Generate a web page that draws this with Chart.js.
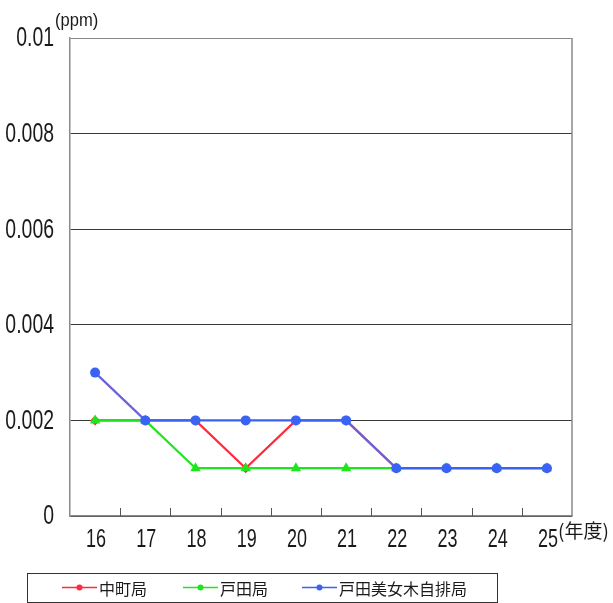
<!DOCTYPE html>
<html>
<head>
<meta charset="utf-8">
<script src="https://cdn.jsdelivr.net/npm/chart.js@4.4.1/dist/chart.umd.min.js"></script>
<style>
  html, body { margin: 0; padding: 0; background: #fff; }
  #wrap { position: relative; width: 613px; height: 603px; }
</style>
</head>
<body>
<div id="wrap"><canvas id="ppmChart"></canvas></div>
<script>
/* 年度別推移 (ppm) — 中町局 / 戸田局 / 戸田美女木自排局 */

var YEARS = ["16", "17", "18", "19", "20", "21", "22", "23", "24", "25"];
var Y_TICK_LABELS = ["0", "0.002", "0.004", "0.006", "0.008", "0.01"];

var NAKAMACHI = [0.002, 0.002, 0.002, 0.001, 0.002, 0.002, 0.001, 0.001, 0.001, 0.001];
var TODA      = [0.002, 0.002, 0.001, 0.001, 0.001, 0.001, 0.001, 0.001, 0.001, 0.001];
var BIJOGI    = [0.003, 0.002, 0.002, 0.002, 0.002, 0.002, 0.001, 0.001, 0.001, 0.001];

var SERIES_NAMES = ["中町局", "戸田局", "戸田美女木自排局"];

/* ── colours ── */
var C = {
  red: "#ff2a3c",
  green: "#1ee61e",
  blue: "#3a62f4",
  purple: "#6a62d8",
  grid: "#3a3a3a",
  frame: "#8a8a8a",
  text: "#1a1a1a"
};

var NUM_FONT = "'Liberation Sans', Arial, sans-serif";
var JP_FONT = "'Noto Sans CJK JP', sans-serif";
var SQUEEZE = 0.72;   // digits in the original are very condensed

/* draws text squeezed horizontally; align is the anchor side */
function narrowText(ctx, str, x, y, align, size, squeeze) {
  ctx.save();
  ctx.font = size + "px " + NUM_FONT;
  ctx.textBaseline = "middle";
  ctx.textAlign = align;
  ctx.translate(x, y);
  ctx.scale(squeeze || SQUEEZE, 1);
  ctx.fillText(str, 0, 0);
  ctx.restore();
}

/* tick labels, frame, inward x ticks, unit labels and boxed legend */
var extras = {
  id: "extras",
  afterDraw: function (chart) {
    var ctx = chart.ctx, a = chart.chartArea;
    var xs = chart.scales.x, ys = chart.scales.y;
    ctx.save();
    ctx.strokeStyle = C.frame;
    ctx.lineWidth = 1.5;
    ctx.beginPath();
    ctx.moveTo(a.right, a.top); ctx.lineTo(a.right, a.bottom);
    ctx.stroke();

    // tick marks between categories, pointing up into the plot
    ctx.strokeStyle = "#555";
    ctx.lineWidth = 1;
    var half = (xs.getPixelForValue(1) - xs.getPixelForValue(0)) / 2;
    for (var i = 1; i < YEARS.length; i++) {
      var px = Math.round(xs.getPixelForValue(i) - half) + 0.5;
      ctx.beginPath();
      ctx.moveTo(px, a.bottom); ctx.lineTo(px, a.bottom - 8);
      ctx.stroke();
    }

    // axis labels from the scales
    ctx.fillStyle = C.text;
    ys.ticks.forEach(function (t, k) {
      narrowText(ctx, Y_TICK_LABELS[k], a.left - 16, ys.getPixelForTick(k) + 1, "right", 27);
    });
    xs.ticks.forEach(function (t, k) {
      narrowText(ctx, YEARS[k], xs.getPixelForTick(k) + 1, a.bottom + 24, "center", 25);
    });

    ctx.fillStyle = C.text;
    narrowText(ctx, "(ppm)", 55, 21, "left", 18, 0.92);
    ctx.font = "19px " + JP_FONT;
    ctx.textAlign = "left";
    ctx.textBaseline = "middle";
    ctx.fillText("(年度)", 558, 531);

    // legend box
    var lx = 27, ly = 573, lw = 470, lh = 29;
    ctx.strokeStyle = "#333";
    ctx.lineWidth = 1;
    ctx.strokeRect(lx + 0.5, ly + 0.5, lw, lh);
    var itemX = [62, 183, 302];
    var cy = ly + lh / 2;
    ctx.font = "16px " + JP_FONT;
    chart.data.datasets.forEach(function (ds) {
      var k = SERIES_NAMES.indexOf(ds.label);
      var x0 = itemX[k];
      ctx.strokeStyle = ds.pointBackgroundColor;
      ctx.lineWidth = 1.5;
      ctx.beginPath();
      ctx.moveTo(x0, cy); ctx.lineTo(x0 + 35, cy);
      ctx.stroke();
      ctx.fillStyle = ds.pointBackgroundColor;
      ctx.beginPath();
      ctx.arc(x0 + 17.5, cy, 3, 0, Math.PI * 2);
      ctx.fill();
      ctx.fillStyle = C.text;
      ctx.fillText(ds.label, x0 + 37, cy + 1);
    });
    ctx.restore();
  }
};

new Chart(document.getElementById("ppmChart"), {
  type: "line",
  data: {
    labels: YEARS,
    datasets: [
      {
        label: SERIES_NAMES[2],
        data: BIJOGI,
        order: 0,
        borderColor: C.blue,
        borderWidth: 2.2,
        segment: {
          borderColor: function (s) {
            return s.p0.parsed.y !== s.p1.parsed.y ? C.purple : C.blue;
          }
        },
        pointStyle: "circle",
        pointRadius: 5,
        pointBackgroundColor: C.blue,
        pointBorderWidth: 0,
        tension: 0
      },
      {
        label: SERIES_NAMES[1],
        data: TODA,
        order: 1,
        borderColor: C.green,
        borderWidth: 2.2,
        pointStyle: "triangle",
        pointRadius: 6,
        pointBackgroundColor: C.green,
        pointBorderWidth: 0,
        tension: 0
      },
      {
        label: SERIES_NAMES[0],
        data: NAKAMACHI,
        order: 2,
        borderColor: C.red,
        borderWidth: 2.2,
        pointStyle: "rectRot",
        pointRadius: 5,
        pointBackgroundColor: C.red,
        pointBorderWidth: 0,
        tension: 0
      }
    ]
  },
  options: {
    responsive: true,
    maintainAspectRatio: false,
    animation: false,
    layout: { padding: { top: 38, right: 41, left: 0, bottom: 0 } },
    plugins: {
      legend: { display: false },
      tooltip: { enabled: false }
    },
    scales: {
      x: {
        offset: true,
        grid: { display: false },
        border: { display: true, color: C.frame, width: 1.5 },
        ticks: { display: false },
        afterFit: function (s) { s.height = 87; }
      },
      y: {
        min: 0,
        max: 0.01,
        grid: {
          drawTicks: false,
          lineWidth: 1,
          color: function (c) {
            if (c.index === Y_TICK_LABELS.length - 1) return C.frame;
            return C.grid;
          }
        },
        border: { display: true, color: C.frame, width: 1.5 },
        ticks: { stepSize: 0.002, display: false },
        afterFit: function (s) { s.width = 70; }
      }
    }
  },
  plugins: [extras]
});
</script>
</body>
</html>
